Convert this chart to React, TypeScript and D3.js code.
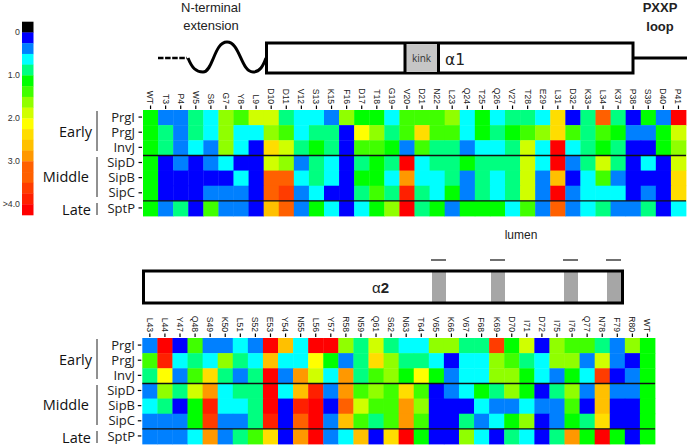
import React from "react";
import * as d3 from "d3";

const topResidues = ["WT","T3","P4","W5","S6","G7","Y8","L9","D10","D11","V12","S13","K15","F16","D17","T18","G19","V20","D21","N22","L23","Q24","T25","Q26","V27","T28","E29","L31","D32","K33","L34","K37","P38","S39","D40","P41"];
const bottomResidues = ["L43","L44","Y47","Q48","S49","K50","L51","S52","E53","Y54","N55","L56","Y57","R58","N59","Q61","S62","N63","T64","V65","K66","V67","F68","K69","D70","I71","D72","I75","I76","Q77","N78","F79","R80","WT"];
const proteins = ["PrgI","PrgJ","InvJ","SipD","SipB","SipC","SptP"];

// colour-bin index per cell (each bin = 0.25 on the legend scale)
const topPrgI = [5,2,2,4,3,7,6,8,8,4,3,3,2,7,5,5,3,6,6,6,7,3,5,3,4,4,3,10,1,4,13,4,1,5,2,17];
const topPrgJ = [5,4,2,4,3,7,3,3,7,6,3,4,4,1,9,7,4,6,10,6,6,3,5,4,5,6,7,10,6,4,6,5,2,2,5,8];
const topInvJ = [5,4,2,3,2,7,3,1,10,8,4,5,4,1,6,6,5,2,6,4,4,2,3,3,4,8,3,17,3,4,5,4,1,1,5,7];
const topSipD = [5,1,2,1,2,3,1,1,8,7,2,4,3,1,4,5,4,17,3,4,4,5,4,4,4,8,3,17,2,4,8,4,1,3,1,8];
const topSipB = [5,1,1,1,1,1,3,1,13,13,3,4,3,1,5,5,3,12,3,3,4,2,4,3,4,8,2,11,1,3,6,2,1,1,1,10];
const topSipC = [5,1,1,1,2,2,2,1,13,15,2,3,1,1,4,6,4,16,4,3,5,2,4,3,4,8,2,17,2,3,3,3,1,2,1,10];
const topSptP = [5,2,4,1,6,2,2,1,11,13,2,5,3,1,3,5,7,17,4,5,2,5,5,5,3,6,2,13,2,3,4,2,2,4,1,3];

const botPrgI = [2,17,1,6,2,2,3,2,17,11,3,17,17,7,4,8,4,3,3,7,7,4,4,15,5,8,1,7,6,6,4,2,7,5];
const botPrgJ = [6,16,3,4,3,7,4,3,11,3,3,9,5,2,4,10,7,4,4,3,1,3,3,7,6,4,3,7,7,2,8,2,1,5];
const botInvJ = [4,9,2,6,10,4,2,4,17,2,12,8,3,12,4,6,7,5,9,5,2,3,3,7,7,5,3,2,5,3,15,1,2,5];
const botSipD = [2,7,4,8,12,3,4,4,17,3,11,16,2,12,6,7,6,10,6,1,2,3,5,4,7,5,1,4,7,2,11,2,2,5];
const botSipB = [3,4,1,5,16,3,3,4,17,1,16,17,1,13,8,6,6,12,7,1,1,1,3,2,2,3,2,2,6,1,11,1,1,5];
const botSipC = [2,2,2,5,15,2,2,4,16,1,13,17,2,11,6,4,6,12,6,1,1,4,2,3,5,7,1,2,5,4,10,1,1,5];
const botSptP = [2,2,2,3,12,2,4,6,10,1,12,17,2,3,11,1,10,17,5,1,1,7,3,1,4,3,1,4,12,5,17,5,1,5];

const topMatrix = [topPrgI, topPrgJ, topInvJ, topSipD, topSipB, topSipC, topSptP];
const botMatrix = [botPrgI, botPrgJ, botInvJ, botSipD, botSipB, botSipC, botSptP];

const legendColors = ["#000000","#0000ff","#0080ff","#00ffff","#00ff80","#00ff00","#40ff00","#90ff00","#d0ff00","#ffff00","#ffdd00","#ffc000","#ff9800","#ff6000","#ff6000","#ff3c00","#ff2000","#ff0000"];
const legendTicks = [{ v: 1, t: "0" }, { v: 5, t: "1.0" }, { v: 9, t: "2.0" }, { v: 13, t: "3.0" }, { v: 17, t: ">4.0" }];
const lumenResidues = [432, 491, 564, 607];

const arial = "'Liberation Sans', Arial, sans-serif";
const ui = "'Open Sans', sans-serif";

const color = d3.scaleOrdinal<number, string>(d3.range(legendColors.length), legendColors);
const legendY = d3.scaleLinear().domain([0, legendColors.length]).range([21.7, 215]);

function Heatmap({ residues, matrix, x0, x1, y0, y1 }: any) {
  const x = d3.scaleBand<string>().domain(residues.map((r: string, i: number) => r + i)).range([x0, x1]);
  const y = d3.scaleBand<string>().domain(proteins).range([y0, y1]);
  const keys = x.domain();
  return (
    <g>
      {matrix.map((row: number[], r: number) =>
        row.map((v, c) => (
          <rect key={r + "-" + c} x={x(keys[c])} y={y(proteins[r])} width={x.bandwidth() + 0.4} height={y.bandwidth() + 0.4} fill={color(v)} />
        ))
      )}
      {[proteins[3], proteins[6]].map((p) => (
        <line key={p} x1={x0} x2={x1} y1={y(p)} y2={y(p)} stroke="#111" strokeWidth={1.4} />
      ))}
      {residues.map((r: string, i: number) => {
        const cx = x(keys[i])! + x.bandwidth() / 2;
        return (
          <g key={i}>
            <line x1={cx} x2={cx} y1={y0 - 4.5} y2={y0 - 1} stroke="#000" strokeWidth={1.2} />
            <text transform={`translate(${cx - 3.1},${y0 - 6}) rotate(90) scale(1,1)`} textAnchor="end" fontFamily={arial} fontSize={8.6} fill="#222">{r}</text>
          </g>
        );
      })}
      {proteins.map((p) => {
        const cy = y(p)! + y.bandwidth() / 2;
        return (
          <g key={p}>
            <line x1={x0 - 4.5} x2={x0 - 1} y1={cy - 0.5} y2={cy - 0.5} stroke="#000" strokeWidth={1.2} />
            <text x={135} y={cy + 4.2} textAnchor="end" fontFamily={ui} fontSize={13} fill="#222">{p}</text>
          </g>
        );
      })}
    </g>
  );
}

function Groups({ dy }: { dy: number }) {
  const groups = [
    { t: "Early", x: 92, y: 137, a: 111, b: 151 },
    { t: "Middle", x: 89, y: 182, a: 157, b: 197 },
    { t: "Late", x: 91, y: 215, a: 203, b: 215 },
  ];
  return (
    <g>
      {groups.map((g) => (
        <g key={g.t}>
          <text x={g.x} y={g.y + dy} textAnchor="end" fontFamily={ui} fontSize={14.5} fill="#111">{g.t}</text>
          <line x1={97} x2={97} y1={g.a + dy} y2={g.b + dy} stroke="#222" strokeWidth={1} />
        </g>
      ))}
    </g>
  );
}

export default function App() {
  return (
    <svg width={687} height={446} viewBox="0 0 687 446" style={{ position: "absolute", left: 0, top: 0, background: "#fff" }}>
      {/* legend */}
      {legendColors.map((c, i) => (
        <rect key={i} x={22} y={legendY(i)} width={11.5} height={legendY(1) - legendY(0) + 0.3} fill={c} />
      ))}
      {legendTicks.map((t) => (
        <text key={t.t} x={20} y={legendY(t.v) + 3} textAnchor="end" fontFamily={arial} fontSize={8.8} fill="#333">{t.t}</text>
      ))}

      {/* top diagram */}
      <text x={211} y={12} textAnchor="middle" fontFamily={arial} fontSize={13} fill="#222">N-terminal</text>
      <text x={211} y={30} textAnchor="middle" fontFamily={arial} fontSize={13} fill="#222">extension</text>
      <text x={660} y={12} textAnchor="middle" fontFamily={arial} fontSize={13} fontWeight="bold" fill="#222">PXXP</text>
      <text x={660} y={31} textAnchor="middle" fontFamily={arial} fontSize={13} fontWeight="bold" fill="#222">loop</text>
      <line x1={158} x2={187} y1={58} y2={58} stroke="#000" strokeWidth={2.6} strokeDasharray="5.5 1.6" />
      <path d="M188,58 C192,68 196,72 203,72 C213,72 214,42 227,42 C240,42 241,72 253,72 C260,72 263,66 266,58" fill="none" stroke="#000" strokeWidth={3} />
      <line x1={633} x2={687} y1={58} y2={58} stroke="#000" strokeWidth={3} />
      <rect x={266.5} y={43} width={366.5} height={30} fill="#fff" stroke="#000" strokeWidth={3} />
      <rect x={406} y={44} width={32} height={28} fill="#c6c6c6" stroke="#000" strokeWidth={0} />
      <line x1={405} x2={405} y1={43} y2={73} stroke="#000" strokeWidth={3} />
      <line x1={438.5} x2={438.5} y1={43} y2={73} stroke="#000" strokeWidth={3} />
      <text x={421.5} y={62} textAnchor="middle" fontFamily={ui} fontSize={10} fill="#333">kink</text>
      <text x={445} y={65} fontFamily="'DejaVu Sans', sans-serif" fontSize={15.5} fill="#222">α<tspan fontFamily="'DejaVu Sans'">1</tspan></text>

      <Heatmap residues={topResidues} matrix={topMatrix} x0={143} x1={686} y0={110} y1={216} />
      <Groups dy={0} />

      {/* bottom diagram */}
      <text x={521} y={239} textAnchor="middle" fontFamily={arial} fontSize={12} fill="#222">lumen</text>
      {lumenResidues.map((x) => (
        <g key={x}>
          <line x1={x - 1} x2={x + 14} y1={260} y2={260} stroke="#222" strokeWidth={1.3} />
          <rect x={x} y={272} width={14} height={30} fill="#a6a6a6" />
        </g>
      ))}
      <rect x={143.5} y={271} width={479} height={32} fill="none" stroke="#000" strokeWidth={3} />
      <text x={372} y={293} fontFamily={arial} fontSize={15} fill="#222">α<tspan fontWeight="bold">2</tspan></text>

      <Heatmap residues={bottomResidues} matrix={botMatrix} x0={142.3} x1={655} y0={338} y1={444} />
      <Groups dy={228} />
    </svg>
  );
}
